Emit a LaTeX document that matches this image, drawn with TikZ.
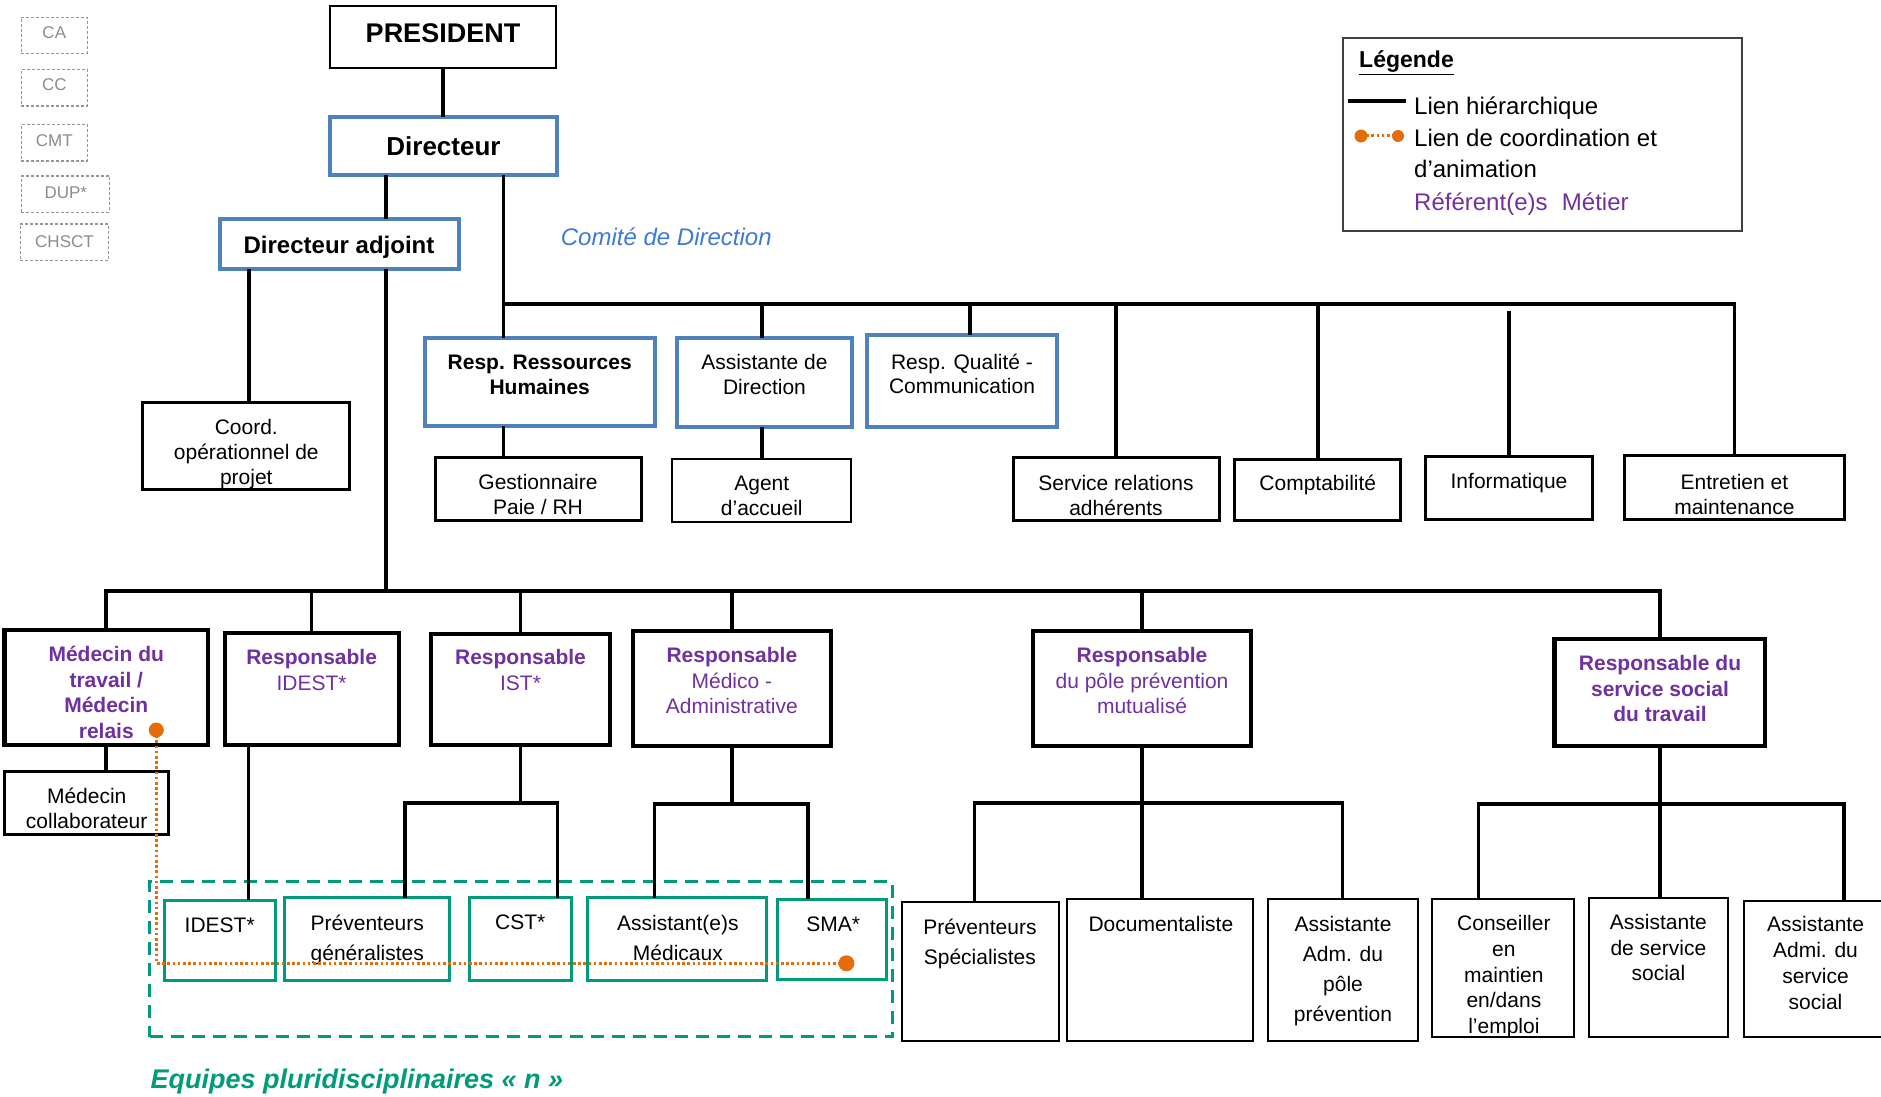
\documentclass[tikz,border=0pt]{standalone}
\usepackage{fontspec}
\setmainfont{Liberation Sans}
\definecolor{ofblue}{RGB}{79,129,189}
\definecolor{ofpurple}{RGB}{112,48,160}
\definecolor{oforange}{RGB}{228,108,10}
\definecolor{ofgreen}{RGB}{0,155,122}
\definecolor{cdblue}{RGB}{62,122,214}
\definecolor{grayline}{RGB}{150,150,150}
\definecolor{graytext}{RGB}{140,140,140}

% box given by its top-left and bottom-right corners (in px)
\newcommand\orgbox[6]{%
  \pgfmathsetmacro\bw{#5-#3}\pgfmathsetmacro\bh{#6-#4}%
  \node[#2, anchor=north west, minimum width=\bw pt, minimum height=\bh pt] (#1) at (#3,#4) {};}

\begin{document}
\begin{tikzpicture}[x=1pt, y=-1pt,
  box/.style={draw, outer sep=0pt, inner sep=0pt},
  thinbk/.style={box, line width=2pt},
  midbk/.style={box, line width=3pt},
  thickbk/.style={box, line width=4.2pt},
  bluebx/.style={box, draw=ofblue, line width=4pt},
  greenbx/.style={box, draw=ofgreen, line width=3pt},
  graybx/.style={box, draw=grayline, line width=1.2pt, dash pattern=on 3pt off 2pt},
  legbx/.style={box, draw=black!75, line width=2pt},
  teambx/.style={box, draw=ofgreen, line width=3.5pt, dash pattern=on 13pt off 8pt},
  link/.style={line width=3.6pt},
  coordln/.style={draw=oforange, line width=3pt, dash pattern=on 2.6pt off 2.6pt},
  odot/.style={circle, fill=oforange, inner sep=0pt, minimum size=#1},
  odot/.default=15pt,
  % multi-line texts: the base anchor sits on the last line
  txt/.style={inner sep=0pt, align=center, anchor=base, font=\fontsize{21}{#1}\selectfont},
  txt/.default=25,
  ptxt/.style={txt=#1, text=ofpurple},
  ptxt/.default=25.5,
  gtxt/.style={inner sep=0pt, anchor=base, text=graytext, font=\fontsize{17}{20}\selectfont},
  legtxt/.style={inner sep=0pt, anchor=base west, font=\fontsize{24}{28}\selectfont}
]
\useasboundingbox (0,0) rectangle (1881,1097);

% ---------- instances (left column) ----------
\orgbox{ca}{graybx}{21.4}{17.3}{87.3}{53.3}
\orgbox{cc}{graybx}{21.4}{69.3}{87.3}{106}
\orgbox{cmt}{graybx}{21.4}{124.3}{87.3}{161}
\orgbox{dup}{graybx}{21.4}{176}{109.5}{212.3}
\orgbox{chsct}{graybx}{20.3}{224}{108.7}{260.3}
\node[gtxt] (ca-t) at (54.3,39) {CA};
\node[gtxt] (cc-t) at (54.3,91) {CC};
\node[gtxt] (cmt-t) at (54.3,146.3) {CMT};
\node[gtxt] (dup-t) at (65.8,198) {DUP*};
\node[gtxt] (chsct-t) at (64.5,247.3) {CHSCT};

% ---------- pluridisciplinary team frame ----------
\orgbox{team}{teambx}{149.6}{881.7}{892.4}{1036.7}

% ---------- direction ----------
\orgbox{pres}{thinbk}{330}{6}{556}{68.3}
\orgbox{dir}{bluebx}{330}{116.7}{557}{175}
\orgbox{adj}{bluebx}{220}{218.7}{458.5}{268.7}
\orgbox{coord}{midbk}{142.9}{402.7}{349.6}{489.3}

% ---------- support services ----------
\orgbox{rh}{bluebx}{425}{337.7}{654.5}{426}
\orgbox{gest}{midbk}{435}{457}{641.5}{520.3}
\orgbox{asd}{bluebx}{676.8}{337.7}{852.2}{426.7}
\orgbox{agent}{thinbk}{672.3}{459.3}{851.3}{522.3}
\orgbox{qual}{bluebx}{867}{335}{1057}{426.7}
\orgbox{srv}{midbk}{1013}{457.7}{1219}{520.7}
\orgbox{compta}{midbk}{1234.8}{459.3}{1400.8}{520.7}
\orgbox{info}{midbk}{1425.2}{456}{1592.7}{519.3}
\orgbox{entr}{midbk}{1624.2}{455.7}{1844.6}{519.3}

% ---------- business managers ----------
\orgbox{med}{thickbk}{4.5}{630}{208}{745.3}
\orgbox{medc}{midbk}{4.5}{771}{168.75}{834}
\orgbox{ridest}{thickbk}{224.6}{633.3}{398.7}{745}
\orgbox{rist}{thickbk}{431.25}{634}{609.8}{745}
\orgbox{rmed}{thickbk}{633}{630.7}{830.8}{745.7}
\orgbox{rprev}{thickbk}{1032.6}{630.7}{1251.3}{745.7}
\orgbox{rsoc}{thickbk}{1554.5}{639}{1765}{746}

% ---------- teams ----------
\orgbox{idest}{greenbx}{164.8}{900}{275.7}{980}
\orgbox{pgen}{greenbx}{284.8}{897.7}{449.6}{980}
\orgbox{cst}{greenbx}{469.6}{897.7}{571.3}{980}
\orgbox{asmed}{greenbx}{587.7}{897.7}{766.4}{980}
\orgbox{sma}{greenbx}{777.9}{899.3}{886.4}{979}
\orgbox{pspe}{thinbk}{901.7}{901.7}{1058.8}{1040.7}
\orgbox{doc}{thinbk}{1066.7}{899.3}{1253}{1040.7}
\orgbox{aadm}{thinbk}{1267.6}{899.3}{1417.7}{1040.7}
\orgbox{cons}{thinbk}{1431.7}{899.3}{1573.5}{1037.3}
\orgbox{ass}{thinbk}{1589.4}{897.7}{1728}{1037.3}
\orgbox{aadmi}{thinbk}{1744}{900.7}{1887}{1036.7}

% ---------- legend ----------
\orgbox{leg}{legbx}{1342.6}{37.7}{1741.6}{230.7}

% ---------- hierarchical links ----------
\coordinate (xa) at (385.8,0);
\coordinate (xb) at (503.5,0);
\coordinate (xc) at (248.8,0);
\coordinate (xq) at (970,0);
\coordinate (xi) at (248.3,0);
\coordinate (xpg) at (404.7,0);
\coordinate (xcs) at (557.4,0);
\coordinate (xam) at (654.4,0);
\coordinate (xsm) at (808.2,0);
\coordinate (xps) at (974.5,0);
\coordinate (xco) at (1478.3,0);
\coordinate (xaa) at (1844,0);
\coordinate (topbar) at (0,304);
\coordinate (infotop) at (0,311);
\coordinate (midbar) at (0,591);
\coordinate (subA) at (0,803);
\coordinate (subB) at (0,804);
\coordinate (subC) at (0,802.7);
\coordinate (subD) at (0,804);

\draw[link] (pres.south) -- (pres.south |- dir.north);
\draw[link] (dir.south -| xa) -- (adj.north -| xa);
\draw[link] (dir.south -| xb) -- (rh.north -| xb);
\draw[link] (xb |- topbar) -- (topbar -| entr.north) -- (entr.north);
\draw[link] (topbar -| agent.north) -- (asd.north -| agent.north);
\draw[link] (asd.south -| agent.north) -- (agent.north);
\draw[link] (topbar -| xq) -- (qual.north -| xq);
\draw[link] (topbar -| srv.north) -- (srv.north);
\draw[link] (topbar -| compta.north) -- (compta.north);
\draw[link] (info.north |- infotop) -- (info.north);
\draw[link] (rh.south -| xb) -- (gest.north -| xb);
\draw[link] (adj.south -| xc) -- (coord.north -| xc);
\draw[link] (adj.south -| xa) -- (xa |- midbar);
\draw[link] (med.north) -- (med.north |- midbar) -- (midbar -| rsoc.north) -- (rsoc.north);
\draw[link] (midbar -| ridest.north) -- (ridest.north);
\draw[link] (midbar -| rist.north) -- (rist.north);
\draw[link] (midbar -| rmed.north) -- (rmed.north);
\draw[link] (midbar -| rprev.north) -- (rprev.north);
\draw[link] (med.south) -- (medc.north -| med.south);
\draw[link] (ridest.south -| xi) -- (idest.north -| xi);
\draw[link] (rist.south) -- (rist.south |- subA);
\draw[link] (pgen.north -| xpg) -- (xpg |- subA) -- (xcs |- subA) -- (cst.north -| xcs);
\draw[link] (rmed.south) -- (rmed.south |- subB);
\draw[link] (asmed.north -| xam) -- (xam |- subB) -- (xsm |- subB) -- (sma.north -| xsm);
\draw[link] (rprev.south) -- (doc.north -| rprev.south);
\draw[link] (pspe.north -| xps) -- (xps |- subC) -- (subC -| aadm.north) -- (aadm.north);
\draw[link] (rsoc.south) -- (ass.north -| rsoc.south);
\draw[link] (cons.north -| xco) -- (xco |- subD) -- (xaa |- subD) -- (aadmi.north -| xaa);

% ---------- texts (y = baseline of the last line) ----------
\node[txt, font=\fontsize{27}{30}\selectfont\bfseries] (pres-t) at (443,42.4) {PRESIDENT};
\node[txt, font=\fontsize{26}{30}\selectfont\bfseries] (dir-t) at (443.5,155) {Directeur};
\node[txt, font=\fontsize{24}{28}\selectfont\bfseries] (adj-t) at (339,253.6) {Directeur adjoint};
\node[txt] (coord-t) at (246.3,484.2) {Coord.\\opérationnel de\\projet};
\node[txt, font=\fontsize{21}{25}\selectfont\bfseries] (rh-t) at (539.7,394.8) {Resp. Ressources\\Humaines};
\node[txt=24.7] (gest-t) at (538,514.2) {Gestionnaire\\Paie / RH};
\node[txt] (asd-t) at (764.5,394.5) {Assistante de\\Direction};
\node[txt] (agent-t) at (761.8,515.8) {Agent\\d’accueil};
\node[txt=24.5] (qual-t) at (962,393.7) {Resp. Qualité -\\Communication};
\node[txt=25.6] (srv-t) at (1116,515.8) {Service relations\\adhérents};
\node[txt] (compta-t) at (1317.8,490.2) {Comptabilité};
\node[txt] (info-t) at (1509,488.5) {Informatique};
\node[txt] (entr-t) at (1734.4,514.2) {Entretien et\\maintenance};

\node[ptxt, font=\fontsize{21}{25.5}\selectfont\bfseries] (med-t) at (106.3,738.3) {Médecin du\\travail /\\Médecin\\relais};
\node[txt] (medc-t) at (86.7,828.5) {Médecin\\collaborateur};
\node[ptxt=26] (ridest-t) at (311.6,690.2) {{\bfseries Responsable}\\IDEST*};
\node[ptxt=26] (rist-t) at (520.5,690.2) {{\bfseries Responsable}\\IST*};
\node[ptxt] (rmed-t) at (731.9,713.5) {{\bfseries Responsable}\\Médico -\\Administrative};
\node[ptxt] (rprev-t) at (1142,713.5) {{\bfseries Responsable}\\du pôle prévention\\mutualisé};
\node[ptxt, font=\fontsize{21}{25.5}\selectfont\bfseries] (rsoc-t) at (1660,721.8) {Responsable du\\service social\\du travail};

\node[txt] (idest-t) at (219.7,932.5) {IDEST*};
\node[txt=29.4] (pgen-t) at (367.3,960.2) {Préventeurs\\généralistes};
\node[txt] (cst-t) at (520.3,929.8) {CST*};
\node[txt=30] (asmed-t) at (677.9,960.8) {Assistant(e)s\\Médicaux};
\node[txt] (sma-t) at (833.3,931.5) {SMA*};
\node[txt=29.4] (pspe-t) at (979.9,964.2) {Préventeurs\\Spécialistes};
\node[txt] (doc-t) at (1160.9,931.7) {Documentaliste};
\node[txt=30] (aadm-t) at (1343,1021.5) {Assistante\\Adm. du\\pôle\\prévention};
\node[txt=25.7] (cons-t) at (1503.9,1033.6) {Conseiller\\en\\maintien\\en/dans\\l’emploi};
\node[txt=25.8] (ass-t) at (1658.4,980.8) {Assistante\\de service\\social};
\node[txt=25.9] (aadmi-t) at (1815.5,1009.2) {Assistante\\Admi. du\\service\\social};

\node[inner sep=0pt, anchor=base west, text=cdblue, font=\fontsize{24}{28}\selectfont\itshape] (cdir) at (560.7,245.5) {Comité de Direction};
\node[inner sep=0pt, anchor=base west, text=ofgreen, font=\fontsize{27}{30}\selectfont\bfseries\itshape] (eqp) at (150.3,1088.3) {Equipes pluridisciplinaires « n »};

% ---------- legend content ----------
\node[legtxt, font=\fontsize{23}{28}\selectfont\bfseries] (leg-title) at (1359,68) {\underline{Légende}};
\coordinate (lh1) at (1348,101);
\coordinate (lh2) at (1405.6,101);
\draw[link] (lh1) -- (lh2);
\coordinate (lc1) at (1361,136);
\coordinate (lc2) at (1398,136);
\draw[coordln] (lc1) -- (lc2);
\node[odot=13pt] (lcd1) at (lc1) {};
\node[odot=12pt] (lcd2) at (lc2) {};
\node[legtxt] (leg-h) at (1414,114.3) {Lien hiérarchique};
\node[legtxt] (leg-c1) at (1414,146.5) {Lien de coordination et};
\node[legtxt] (leg-c2) at (1414,177.7) {d’animation};
\node[legtxt, text=ofpurple] (leg-r) at (1414,210) {Référent(e)s\hspace{0.6em}Métier};

% ---------- coordination link ----------
\coordinate (o1) at (156.3,730);
\coordinate (o2) at (846.4,963.3);
\draw[coordln] (o1) |- (o2);
\node[odot] (od1) at (o1) {};
\node[odot=16pt] (od2) at (o2) {};
\end{tikzpicture}
\end{document}
